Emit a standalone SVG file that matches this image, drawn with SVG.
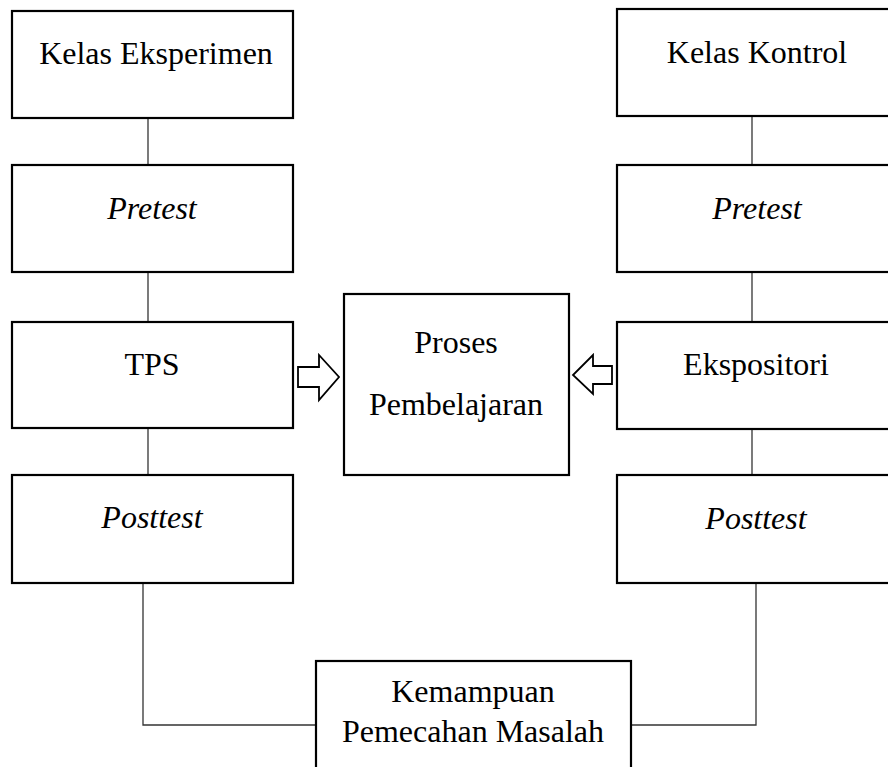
<svg xmlns="http://www.w3.org/2000/svg" width="888" height="767" viewBox="0 0 888 767">
<style>
.box{fill:#fff;stroke:#000;stroke-width:2.2}
.t{font-family:'Liberation Serif','Times New Roman',Tinos,'DejaVu Serif',serif;font-size:32px;fill:#000;text-anchor:middle}
.i{font-style:italic}
.c{fill:none;stroke:#333;stroke-width:1.3}
.ar{fill:#fff;stroke:#000;stroke-width:1.8;stroke-linejoin:miter}
</style>
<rect width="888" height="767" fill="#fff"/>
<g id="connectors">
<line class="c" x1="148" y1="118" x2="148" y2="165"/>
<line class="c" x1="148" y1="272" x2="148" y2="322"/>
<line class="c" x1="148" y1="428" x2="148" y2="475"/>
<polyline class="c" points="143,583 143,725 316,725"/>
<line class="c" x1="752" y1="116" x2="752" y2="165"/>
<line class="c" x1="752" y1="272" x2="752" y2="322"/>
<line class="c" x1="752" y1="429" x2="752" y2="475"/>
<polyline class="c" points="756,583 756,725 631,725"/>
<polygon class="ar" points="298,367 319,367 319,355 339,377 319,400 319,387 298,387"/>
<polygon class="ar" points="612,366 593,366 593,355 573,375 593,394 593,384 612,384"/>
</g>
<g id="kelas-eksperimen"><rect class="box" x="12" y="11" width="281" height="107"/><text class="t" font-family="Liberation Serif, serif" x="156" y="64">Kelas Eksperimen</text></g>
<g id="pretest-e"><rect class="box" x="12" y="165" width="281" height="107"/><text class="t i" font-family="Liberation Serif, serif" x="152" y="219">Pretest</text></g>
<g id="tps"><rect class="box" x="12" y="322" width="281" height="106"/><text class="t" font-family="Liberation Serif, serif" x="152" y="375">TPS</text></g>
<g id="posttest-e"><rect class="box" x="12" y="475" width="281" height="108"/><text class="t i" font-family="Liberation Serif, serif" x="152" y="528">Posttest</text></g>
<g id="kelas-kontrol"><rect class="box" x="617" y="9" width="280" height="107"/><text class="t" font-family="Liberation Serif, serif" x="757" y="63">Kelas Kontrol</text></g>
<g id="pretest-k"><rect class="box" x="617" y="165" width="280" height="107"/><text class="t i" font-family="Liberation Serif, serif" x="757" y="219">Pretest</text></g>
<g id="ekspositori"><rect class="box" x="617" y="322" width="280" height="107"/><text class="t" font-family="Liberation Serif, serif" x="756" y="375">Ekspositori</text></g>
<g id="posttest-k"><rect class="box" x="617" y="475" width="280" height="108"/><text class="t i" font-family="Liberation Serif, serif" x="756" y="529">Posttest</text></g>
<g id="proses"><rect class="box" x="344" y="294" width="225" height="181"/><text class="t" font-family="Liberation Serif, serif" x="456" y="353">Proses</text><text class="t" font-family="Liberation Serif, serif" x="456" y="415">Pembelajaran</text></g>
<g id="kemampuan"><rect class="box" x="316" y="661" width="315" height="120"/><text class="t" font-family="Liberation Serif, serif" x="473" y="702">Kemampuan</text><text class="t" font-family="Liberation Serif, serif" x="473" y="742">Pemecahan Masalah</text></g>
</svg>
